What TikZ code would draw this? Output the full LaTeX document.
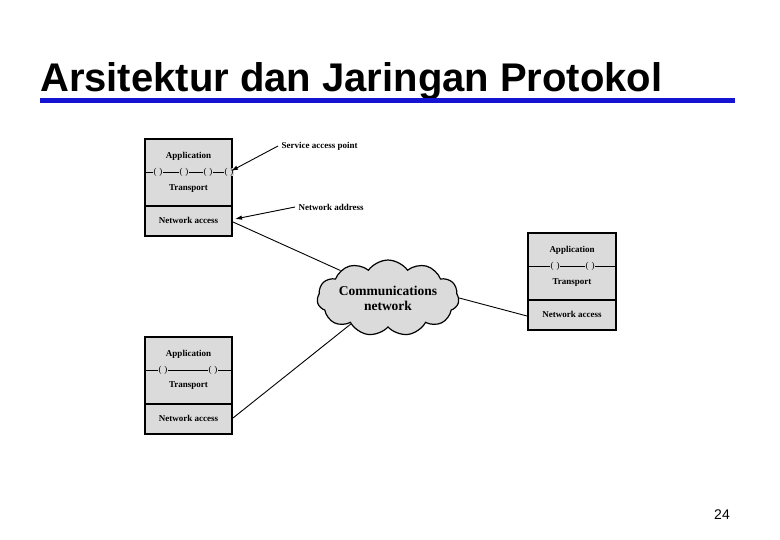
\documentclass[tikz,border=0pt]{standalone}
\usepackage{fontspec}
\setmainfont{Liberation Serif}
\setsansfont{Liberation Sans}
\usetikzlibrary{shapes.symbols,arrows.meta}
\definecolor{boxgray}{gray}{0.86}
\definecolor{titleblue}{RGB}{20,20,210}
\tikzset{
  layer/.style={draw, line width=1.2pt, fill=boxgray},
  lbl/.style={font=\bfseries\fontsize{9}{10}\selectfont},
  gap/.style={fill=boxgray, inner sep=0.3pt, font=\fontsize{9}{9}\selectfont},
  link/.style={line width=0.9pt},
  pointer/.style={line width=0.9pt, -{Latex[length=7pt,width=4.5pt]}}
}
\begin{document}
\begin{tikzpicture}[x=1pt,y=-1pt]
\useasboundingbox (0,0) rectangle (780,540);
\node[anchor=base west, inner sep=0, font=\sffamily\bfseries\fontsize{40}{42}\selectfont] (title) at (40,92) {Arsitektur dan Jaringan Protokol};
\draw[titleblue, line width=5pt] (40,101) -- (735,101);
\node[font=\sffamily\fontsize{14}{15}\selectfont] (pg) at (722,515) {24};

% Box A
\draw[layer] (145,139) rectangle (232,206);
\draw[layer] (145,206) rectangle (232,236);
\node[lbl] (aA) at (188.5,156) {Application};
\node[lbl] (aT) at (188.5,189) {Transport};
\node[lbl] (aN) at (188.5,220) {Network access};
\draw[line width=0.9pt] (145,172) -- (232,172);
\foreach \x in {158,184,208,229} \node[gap] at (\x,172) {(\,\,)};
% Box B
\draw[layer] (145,337) rectangle (232,404);
\draw[layer] (145,404) rectangle (232,434);
\node[lbl] (bA) at (188.5,354) {Application};
\node[lbl] (bT) at (188.5,386) {Transport};
\node[lbl] (bN) at (188.5,418) {Network access};
\draw[line width=0.9pt] (145,370) -- (232,370);
\foreach \x in {163,213} \node[gap] at (\x,370) {(\,\,)};
% Box C
\draw[layer] (528,233) rectangle (616,300);
\draw[layer] (528,300) rectangle (616,330);
\node[lbl] (cA) at (572,250) {Application};
\node[lbl] (cT) at (572,283) {Transport};
\node[lbl] (cN) at (572,314) {Network access};
\draw[line width=0.9pt] (528,266) -- (616,266);
\foreach \x in {555,590} \node[gap] at (\x,266) {(\,\,)};

% Cloud
\node[cloud, cloud puffs=11, cloud puff arc=110, aspect=2.4, draw, line width=1.2pt, fill=boxgray,
  minimum width=140pt, minimum height=66pt, align=center,
  font=\bfseries\fontsize{13.5}{15}\selectfont, inner sep=0pt] (net) at (388,298) {Communications\\network};

\coordinate (aNe) at (233,222);
\coordinate (bNe) at (233,418);
\coordinate (cNw) at (527,316);
\draw[link] (aNe) -- (net.150);
\draw[link] (bNe) -- (net.215);
\draw[link] (cNw) -- (net.east);

% Labels
\node[lbl, anchor=west] (sap) at (278,146) {Service access point};
\node[lbl, anchor=west] (nad) at (295,207) {Network address};
\coordinate (sapT) at (231,171);
\coordinate (nadT) at (235,219);
\draw[pointer] (sap.west) -- (sapT);
\draw[pointer] (nad.west) -- (nadT);
\end{tikzpicture}
\end{document}
